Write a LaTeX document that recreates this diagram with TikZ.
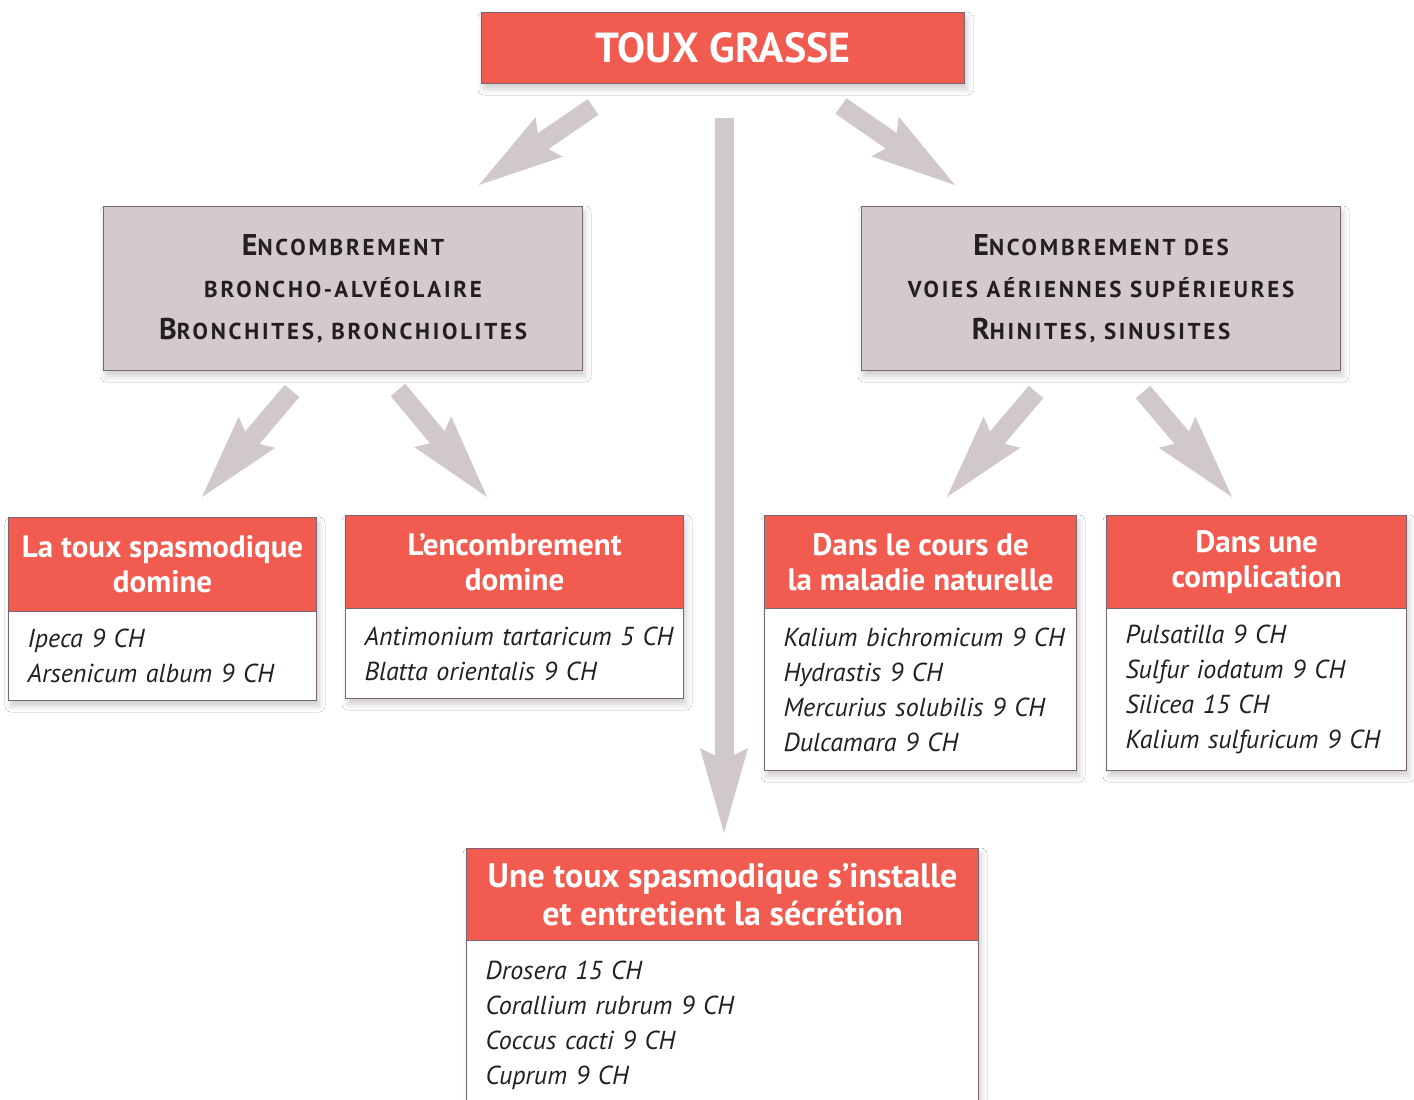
\documentclass[tikz,border=0pt]{standalone}
\usepackage{fontspec}
\setmainfont{PT Sans}
\newfontfamily\capsfont[LetterSpace=12]{PT Sans}
\usetikzlibrary{arrows.meta,shadows.blur}
\definecolor{redbox}{RGB}{241,91,80}
\definecolor{graybox}{RGB}{212,202,206}
\definecolor{arrowgray}{RGB}{209,200,203}
\definecolor{boxborder}{RGB}{120,100,115}
\definecolor{darktext}{RGB}{35,31,32}
\newcommand\bigC[1]{{\fontsize{30}{30}\selectfont #1}}
\newcommand\smC[1]{{\fontsize{23}{23}\selectfont #1}}
\newcommand\rline[1]{\mbox{#1}}
\begin{document}
\begin{tikzpicture}[x=1pt,y=-1pt,
  shadowed/.style={blur shadow={shadow xshift=3pt,shadow yshift=-6pt,shadow blur radius=6pt,shadow opacity=20}},
  boxbase/.style={draw=boxborder,line width=1.2pt,inner sep=0pt,anchor=north west},
  redhead/.style={boxbase,fill=redbox,text=white,align=center,font=\bfseries\fontsize{31}{35}\selectfont},
  whitebody/.style={boxbase,fill=white,text=darktext,align=left,inner xsep=19pt,font=\itshape\fontsize{26}{35}\selectfont},
  graynode/.style={boxbase,fill=graybox,text=darktext,align=center,font=\capsfont\bfseries\fontsize{23}{42}\selectfont},
  fatarrow/.style={draw=arrowgray,line width=19pt,-{Stealth[length=85pt,width=48pt,inset=12pt,line width=0pt]}}
]
\clip (0,0) rectangle (1414,1100);
\fill[white] (0,0) rectangle (1414,1100);

% shadows
\path[shadowed,fill=white] (481,12) rectangle (964,83);
\path[shadowed,fill=white] (103,206) rectangle (582,370);
\path[shadowed,fill=white] (861,206) rectangle (1340,370);
\path[shadowed,fill=white] (8,517) rectangle (316,700);
\path[shadowed,fill=white] (345,515) rectangle (683,698);
\path[shadowed,fill=white] (764,515) rectangle (1076,770);
\path[shadowed,fill=white] (1106,515) rectangle (1406,770);
\path[shadowed,fill=white] (466,848) rectangle (978,1115);

% top
\node[redhead,minimum width=483pt,minimum height=71pt,font=\bfseries\fontsize{42}{42}\selectfont] (top) at (481,12) {TOUX GRASSE};

% gray boxes
\node[graynode,minimum width=479pt,minimum height=164pt] (g1) at (103,206)
  {\bigC{E}\smC{NCOMBREMENT}\\\smC{BRONCHO-ALVÉOLAIRE}\\\bigC{B}\smC{RONCHITES, BRONCHIOLITES}};
\node[graynode,minimum width=479pt,minimum height=164pt] (g2) at (861,206)
  {\bigC{E}\smC{NCOMBREMENT DES}\\\smC{VOIES AÉRIENNES SUPÉRIEURES}\\\bigC{R}\smC{HINITES, SINUSITES}};

% box 1
\node[redhead,minimum width=308pt,minimum height=94pt] (h1) at (8,517) {La toux spasmodique\\domine};
\node[whitebody,minimum width=308pt,minimum height=89pt,text width=270pt] (b1) at (8,611)
  {\rline{Ipeca 9 CH}\\\rline{Arsenicum album 9 CH}};
% box 2
\node[redhead,minimum width=338pt,minimum height=93pt] (h2) at (345,515) {L’encombrement\\domine};
\node[whitebody,minimum width=338pt,minimum height=90pt,text width=300pt] (b2) at (345,608)
  {\rline{Antimonium tartaricum 5 CH}\\\rline{Blatta orientalis 9 CH}};
% box 3
\node[redhead,minimum width=312pt,minimum height=93pt] (h3) at (764,515) {Dans le cours de\\la maladie naturelle};
\node[whitebody,minimum width=312pt,minimum height=162pt,text width=274pt] (b3) at (764,608)
  {\rline{Kalium bichromicum 9 CH}\\\rline{Hydrastis 9 CH}\\\rline{Mercurius solubilis 9 CH}\\\rline{Dulcamara 9 CH}};
% box 4
\node[redhead,minimum width=300pt,minimum height=93pt] (h4) at (1106,515) {Dans une\\complication};
\node[whitebody,minimum width=300pt,minimum height=162pt,text width=262pt] (b4) at (1106,608)
  {\rline{Pulsatilla 9 CH}\\\rline{Sulfur iodatum 9 CH}\\\rline{Silicea 15 CH}\\\rline{Kalium sulfuricum 9 CH}};
% bottom box
\node[redhead,minimum width=512pt,minimum height=92pt,font=\bfseries\fontsize{34}{38}\selectfont] (h5) at (466,848) {Une toux spasmodique s’installe\\et entretient la sécrétion};
\node[whitebody,minimum width=512pt,minimum height=170pt,text width=474pt] (b5) at (466,940)
  {\rline{Drosera 15 CH}\\\rline{Corallium rubrum 9 CH}\\\rline{Coccus cacti 9 CH}\\\rline{Cuprum 9 CH}};

% arrow coordinates
\coordinate (a1s) at (593,107); \coordinate (a1e) at (479,185);
\coordinate (a2s) at (841,106); \coordinate (a2e) at (955,185);
\coordinate (a3s) at (724,118); \coordinate (a3e) at (724,833);
\coordinate (a4s) at (292,391); \coordinate (a4e) at (202,497);
\coordinate (a5s) at (398,390); \coordinate (a5e) at (487,497);
\coordinate (a6s) at (1036,392); \coordinate (a6e) at (947,497);
\coordinate (a7s) at (1143,392); \coordinate (a7e) at (1232,497);

\draw[fatarrow] (a1s) -- (a1e);
\draw[fatarrow] (a2s) -- (a2e);
\draw[fatarrow] (a3s) -- (a3e);
\draw[fatarrow] (a4s) -- (a4e);
\draw[fatarrow] (a5s) -- (a5e);
\draw[fatarrow] (a6s) -- (a6e);
\draw[fatarrow] (a7s) -- (a7e);
\end{tikzpicture}
\end{document}
